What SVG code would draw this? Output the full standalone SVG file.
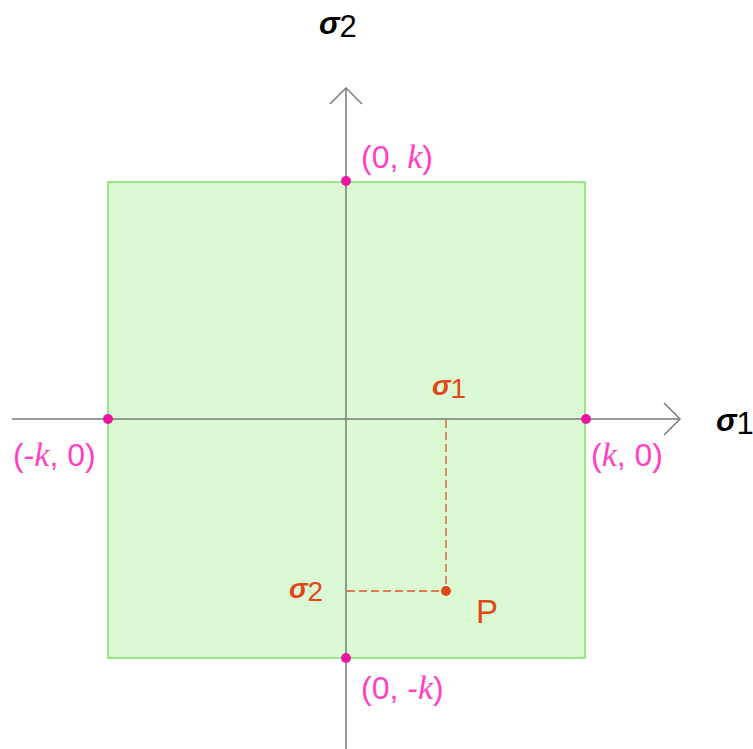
<svg xmlns="http://www.w3.org/2000/svg" width="753" height="749" viewBox="0 0 753 749">
<style>
.ax{stroke:#7a7a7a;stroke-width:1.5;fill:none}
.dash{stroke:#e2502a;stroke-width:1.3;stroke-dasharray:8,4;fill:none}
.mag{fill:#ff3fc6;font-family:"Liberation Sans",Arial,sans-serif;font-size:32px}
.ora{fill:#e0481c;font-family:"Liberation Sans",Arial,sans-serif;font-size:28px}
.blk{fill:#000;font-family:"Liberation Sans",Arial,sans-serif;font-size:31px}
.sig{font-style:italic;font-weight:bold}
.k{font-family:"Liberation Serif",serif;font-style:italic;font-size:34px}
.mdot{fill:#e8179f}
.pl{font-size:33px}
</style>
<g id="region">
<rect x="108" y="182" width="477" height="476" fill="#dbf9d2" stroke="#80e36c" stroke-width="1.5"/>
</g>
<g id="connectors">
<line class="ax" x1="12" y1="419" x2="680" y2="419"/>
<polyline class="ax" points="664,403 680,419 664,435"/>
<line class="ax" x1="346" y1="749" x2="346" y2="88"/>
<polyline class="ax" points="330,104 346,88 362,104"/>
<line class="dash" x1="446" y1="420" x2="446" y2="591"/>
<line class="dash" x1="347" y1="591" x2="446" y2="591"/>
</g>
<g id="axis-labels">
<text class="blk" x="319" y="34"><tspan class="sig">σ</tspan><tspan dy="3">2</tspan></text>
<text class="blk" x="716" y="431"><tspan class="sig">σ</tspan><tspan dy="3">1</tspan></text>
</g>
<g id="p-top"><circle class="mdot" cx="346" cy="181" r="5"/><text class="mag" x="361" y="168">(0, <tspan class="k">k</tspan>)</text></g>
<g id="p-left"><circle class="mdot" cx="108" cy="419" r="5"/><text class="mag" x="13" y="466">(-<tspan class="k">k</tspan>, 0)</text></g>
<g id="p-right"><circle class="mdot" cx="586" cy="419" r="5"/><text class="mag" x="591" y="466">(<tspan class="k">k</tspan>, 0)</text></g>
<g id="p-bottom"><circle class="mdot" cx="346" cy="658" r="5"/><text class="mag" x="361" y="699">(0, -<tspan class="k">k</tspan>)</text></g>
<g id="sigma1-label"><text class="ora" x="432" y="395"><tspan class="sig">σ</tspan><tspan dy="3">1</tspan></text></g>
<g id="sigma2-label"><text class="ora" x="289" y="598"><tspan class="sig">σ</tspan><tspan dy="3">2</tspan></text></g>
<g id="P"><circle cx="446" cy="591" r="5" fill="#e0481c"/><text class="ora pl" x="476" y="623">P</text></g>
</svg>
